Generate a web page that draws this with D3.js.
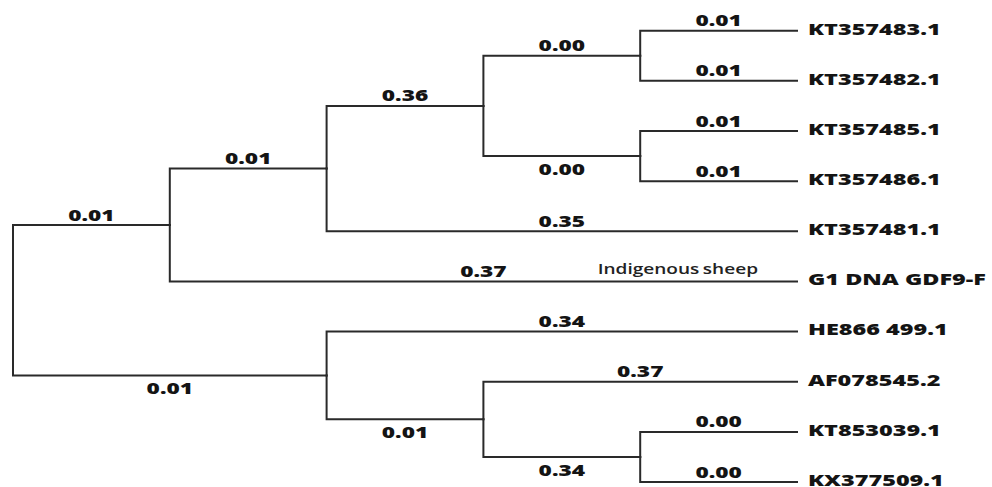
<!DOCTYPE html>
<html>
<head>
<meta charset="utf-8">
<script src="https://cdn.jsdelivr.net/npm/d3@7"></script>
<style>
  html, body { margin: 0; padding: 0; background: #fff; }
  svg { display: block; }
</style>
</head>
<body>
<svg id="tree" width="992" height="487"></svg>
<script>
// Tree topology: node ids, their parents (children listed in display order)
const nodeIds = [
  "root", "A", "B", "C", "G1 DNA GDF9-F", "D", "KT357481.1", "E", "F",
  "KT357483.1", "KT357482.1", "KT357485.1", "KT357486.1",
  "HE866 499.1", "H", "AF078545.2", "I", "KT853039.1", "KX377509.1"
];
const parentIds = [
  "", "root", "root", "A", "A", "C", "C", "D", "D",
  "E", "E", "F", "F",
  "B", "B", "H", "H", "I", "I"
];
// Branch values shown on each branch (root has none)
const branchValues = [
  null, 0.01, 0.01, 0.01, 0.37, 0.36, 0.35, 0.00, 0.00,
  0.01, 0.01, 0.01, 0.01,
  0.34, 0.01, 0.37, 0.34, 0.00, 0.00
];
// Annotation attached to a tip
const noteTip = ["G1 DNA GDF9-F"];
const noteText = ["Indigenous sheep"];

const width = 992, height = 487;
const rows = nodeIds.map((id, i) => ({ id, parent: parentIds[i] || null, value: branchValues[i] }));
const root = d3.stratify().id(d => d.id).parentId(d => d.parent)(rows);

// Cluster layout: tips share one column, inner nodes sit at their height
const nLeaves = root.leaves().length;
const rowStep = 50.15;
const treeW = 784;
const cluster = d3.cluster()
  .size([rowStep * nLeaves, treeW])
  .separation(() => 1);
cluster(root);

const svg = d3.select("#tree");
const g = svg.append("g").attr("transform", `translate(13,${30.7 - rowStep / 2})`);

const ink = "#2a2a2a";
const textInk = "#141414";
const fontFamily = "'Open Sans', 'DejaVu Sans', sans-serif";
const sx = 1.42;   // wide lettering
const fmt = d3.format(".2f");

// Elbow branches: vertical from the parent, then horizontal to the child
g.append("g")
  .attr("fill", "none")
  .attr("stroke", ink)
  .attr("stroke-width", 2)
  .attr("stroke-linecap", "square")
  .selectAll("path")
  .data(root.links())
  .join("path")
  .attr("d", l => `M${l.source.y},${l.source.x}V${l.target.x}H${l.target.y}`);

// Branch value labels: above for tips and upper children, below for lower inner nodes
const labelled = root.descendants().filter(d => d.parent);
g.append("g")
  .attr("font-family", fontFamily)
  .attr("font-weight", 800)
  .attr("font-size", 16)
  .attr("fill", textInk)
  .attr("text-anchor", "middle")
  .selectAll("text")
  .data(labelled)
  .join("text")
  .attr("transform", d => {
    const isLower = d.children && d.parent.children.indexOf(d) === d.parent.children.length - 1;
    const cx = (d.parent.y + d.y) / 2;
    const cy = isLower ? d.x + 19 : d.x - 4.5;
    return `translate(${cx},${cy}) scale(${sx},1)`;
  })
  .text(d => fmt(d.data.value));

// Tip names
g.append("g")
  .attr("font-family", fontFamily)
  .attr("font-weight", 800)
  .attr("font-size", 16.5)
  .attr("fill", textInk)
  .selectAll("text")
  .data(root.leaves())
  .join("text")
  .attr("transform", d => `translate(${d.y + 11},${d.x + 3.8}) scale(${sx},1)`)
  .text(d => d.id);

// Tip annotation
const notes = noteTip.map((tip, i) => ({ node: root.find(n => n.id === tip), text: noteText[i] }));
g.append("g")
  .attr("font-family", fontFamily)
  .attr("font-weight", 600)
  .attr("font-size", 14)
  .attr("fill", "#222")
  .attr("text-anchor", "end")
  .attr("word-spacing", -1)
  .selectAll("text")
  .data(notes)
  .join("text")
  .attr("transform", d => `translate(${d.node.y - 39},${d.node.x - 7}) scale(1.36,1)`)
  .text(d => d.text);
</script>
</body>
</html>
